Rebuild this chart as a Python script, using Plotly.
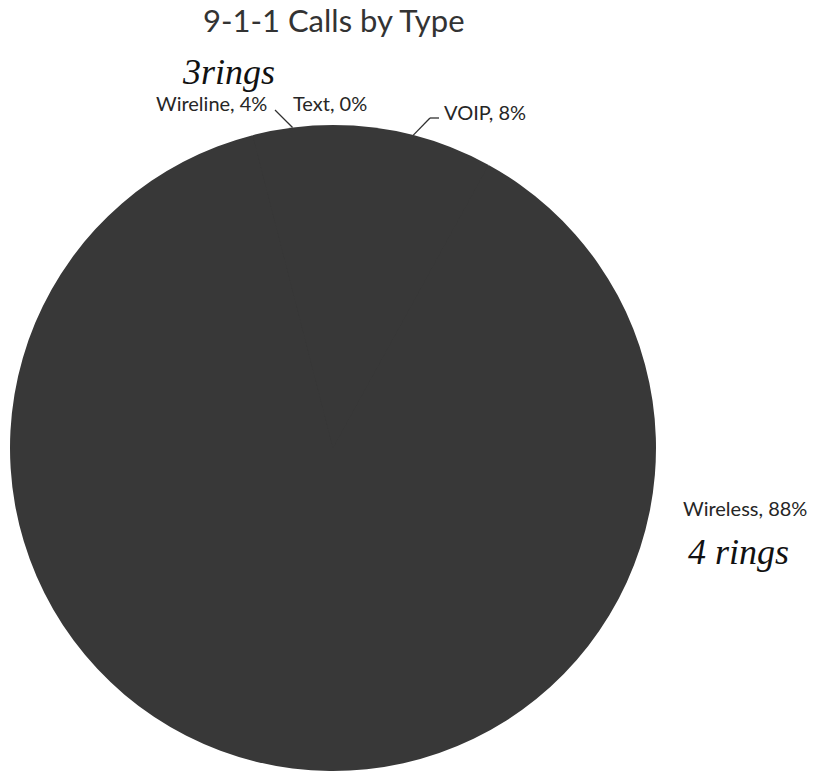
import math
import plotly.graph_objects as go

# Call types in the order they are drawn, clockwise from 12 o'clock
call_types = ["Text", "VOIP", "Wireless", "Wireline"]
shares = [0, 8, 88, 4]
title_text = "9-1-1 Calls by Type"
notes = {"Wireline": "3rings", "Wireless": "4 rings"}

W, H = 815, 772
CX, CY, R = 333, 448, 323          # pie centre and radius in pixels
SLICE_COLOR = "#383838"
LABEL_COLOR = "#262626"
LABEL_FONT = "Lato, Open Sans, sans-serif"


def px(x):
    return x / W


def py(y):
    return 1 - y / H


fig = go.Figure(go.Pie(
    labels=call_types,
    values=shares,
    sort=False,
    direction="clockwise",
    rotation=0,
    textinfo="none",
    hoverinfo="label+percent",
    marker=dict(colors=[SLICE_COLOR] * len(call_types),
                line=dict(color=SLICE_COLOR, width=0)),
    domain=dict(x=[px(CX - R), px(CX + R)], y=[py(CY + R), py(CY - R)]),
    showlegend=False,
))

# mid-angle of each slice (degrees clockwise from top)
total = sum(shares)
mid = {}
acc = 0
for name, v in zip(call_types, shares):
    mid[name] = (acc + v / 2) / total * 360
    acc += v


def edge(name):
    t = math.radians(mid[name])
    return CX + R * math.sin(t), CY - R * math.cos(t)


# label anchor positions (pixels) and leader-line elbows
label_pos = {
    "Wireline": (211, 103),
    "Text": (330, 103),
    "VOIP": (485, 112),
    "Wireless": (745, 508),
}
leaders = {
    "Wireline": [(275, 110)],
    "VOIP": [(430, 118), (439, 118)],
}

pct = {n: round(v / total * 100) for n, v in zip(call_types, shares)}
annotations = []
for name in call_types:
    x, y = label_pos[name]
    annotations.append(dict(
        x=px(x), y=py(y), xref="paper", yref="paper",
        text=f"{name}, {pct[name]}%", showarrow=False,
        font=dict(family=LABEL_FONT, size=20, color=LABEL_COLOR),
        xanchor="center", yanchor="middle",
    ))

# solid disc underneath the slices so no seams show between them
shapes = [dict(type="circle", xref="paper", yref="paper", layer="below",
               x0=px(CX - R + 1), x1=px(CX + R - 1),
               y0=py(CY + R - 1), y1=py(CY - R + 1),
               fillcolor=SLICE_COLOR, line=dict(width=0))]
for name, pts in leaders.items():
    ex, ey = edge(name)
    path = [(ex, ey)] + pts
    for (x0, y0), (x1, y1) in zip(path[:-1], path[1:]):
        shapes.append(dict(type="line", xref="paper", yref="paper",
                           x0=px(x0), y0=py(y0), x1=px(x1), y1=py(y1),
                           line=dict(color="#303030", width=1.3)))

# handwritten notes
note_pos = {"Wireline": (228, 72), "Wireless": (738, 552)}
for name, txt in notes.items():
    x, y = note_pos[name]
    annotations.append(dict(
        x=px(x), y=py(y), xref="paper", yref="paper",
        text=f"<i>{txt}</i>", showarrow=False,
        font=dict(family="Liberation Serif, serif", size=36, color="#111111"),
        xanchor="center", yanchor="middle",
    ))

# title
annotations.append(dict(
    x=px(334), y=py(20), xref="paper", yref="paper",
    text=title_text, showarrow=False,
    font=dict(family=LABEL_FONT, size=31, color="#333333"),
    xanchor="center", yanchor="middle",
))

fig.update_layout(
    width=W, height=H,
    margin=dict(l=0, r=0, t=0, b=0),
    paper_bgcolor="white",
    plot_bgcolor="white",
    annotations=annotations,
    shapes=shapes,
)

fig.write_html("out.html")
